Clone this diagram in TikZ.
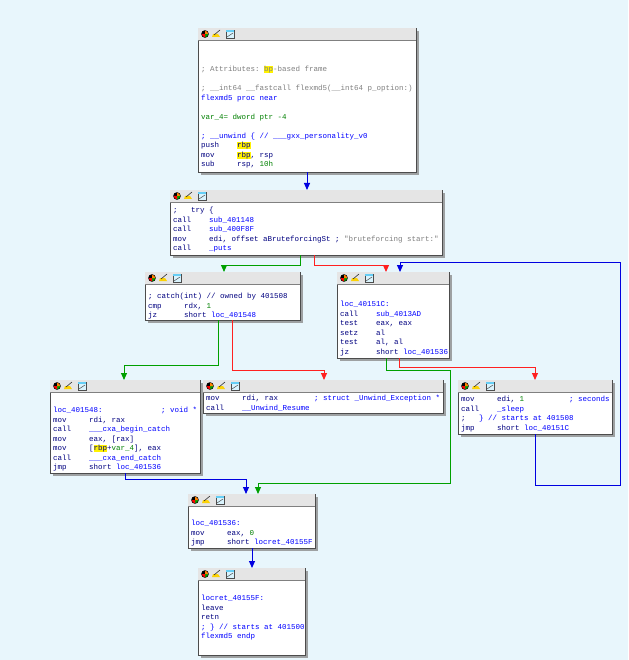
\documentclass[tikz,border=0pt]{standalone}
\usepackage{fontspec}
\setmonofont{Liberation Mono}
\usetikzlibrary{calc,arrows.meta,shadows}

\definecolor{idabg}{HTML}{E8F6FC}
\definecolor{idaop}{HTML}{000080}
\definecolor{idaname}{HTML}{0000FF}
\definecolor{idanum}{HTML}{008000}
\definecolor{idacmt}{HTML}{808080}
\definecolor{idagreen}{HTML}{00A000}
\definecolor{idared}{HTML}{FF2020}
\definecolor{idablue}{HTML}{0000E0}

\newlength{\cw}
\setlength{\cw}{4.5pt}
\newcommand{\ins}[1]{\makebox[8\cw][l]{#1}}
\newcommand{\tabto}[2]{\makebox[#1\cw][l]{#2}}
\newcommand{\hl}[1]{{\setlength{\fboxsep}{0pt}\colorbox{yellow}{#1}}}
\newcommand{\nm}[1]{\textcolor{idaname}{#1}}
\newcommand{\num}[1]{\textcolor{idanum}{#1}}
\newcommand{\cmt}[1]{\textcolor{idacmt}{#1}}

\tikzset{
  blk/.style={draw=black!70, fill=white, anchor=north west, inner sep=0pt,
    drop shadow={shadow xshift=2.5pt, shadow yshift=-2.5pt, fill=black!45, opacity=.8}},
  code/.style={anchor=north west, inner sep=0pt, align=left, text=idaop,
    font=\ttfamily\fontsize{7.5}{9.5}\selectfont},
  edge/.style={line width=1pt, -{Triangle[width=6pt,length=7pt]}},
  egreen/.style={edge, idagreen},
  ered/.style={edge, idared},
  eblue/.style={edge, idablue}
}

% one IDA graph block: name, x, y, width, height
\newcommand{\idablock}[5]{%
  \node[blk, minimum width=#4pt, minimum height=#5pt] (#1) at (#2,#3) {};
  \fill[black!10] (#1.north west) rectangle ($(#1.north east)+(0,12)$);
  \draw[black!50] ($(#1.north west)+(0,12)$) -- ($(#1.north east)+(0,12)$);
  \fill[black] ($(#1.north west)+(7,6)$) circle (3.8pt);
  \fill[idagreen] ($(#1.north west)+(7,6)$) -- ++(0:3.2) arc (0:90:3.2) -- cycle;
  \fill[red] ($(#1.north west)+(7,6)$) -- ++(90:3.2) arc (90:180:3.2) -- cycle;
  \fill[orange] ($(#1.north west)+(7,6)$) -- ++(270:3.2) arc (270:360:3.2) -- cycle;
  \fill[yellow!70!orange] ($(#1.north west)+(14,9)$) -- ++(8,0) -- ++(-2,-3) -- ++(-5,0) -- cycle;
  \draw[black!80, line width=.6pt] ($(#1.north west)+(16,7)$) -- ++(6,-5);
  \draw[black!70, fill=cyan!15] ($(#1.north west)+(28,2)$) rectangle ++(8,8);
  \fill[cyan!60] ($(#1.north west)+(28,2)$) rectangle ++(8,2);
  \draw[black!70, line width=.5pt] ($(#1.north west)+(29,9)$) -- ++(6,-4);
}

\begin{document}
\begin{tikzpicture}[x=1pt,y=-1pt]
	\fill[idabg] (0,0) rectangle (628,660);
	\useasboundingbox (0,0) rectangle (628,660);

	%% blocks
	\idablock{b1}{198}{28}{218}{144}
	\node[code] (t1) at ($(b1.north west)+(3,38)$) {%
	  \cmt{; Attributes: \hl{bp}-based frame}\\
	  \mbox{}\\
	  \cmt{; \_\_int64 \_\_fastcall flexmd5(\_\_int64 p\_option:)}\\
	  \nm{flexmd5 proc near}\\
	  \mbox{}\\
	  \num{var\_4= dword ptr -4}\\
	  \mbox{}\\
	  \nm{; \_\_unwind \{ // \_\_\_gxx\_personality\_v0}\\
	  \ins{push}\hl{rbp}\\
	  \ins{mov}\hl{rbp}, rsp\\
	  \ins{sub}rsp, \num{10h}};

	\idablock{b2}{170}{190}{272}{65}
	\node[code] (t2) at ($(b2.north west)+(3,17)$) {%
	  \tabto{4}{;}try \{\\
	  \ins{call}\nm{sub\_401148}\\
	  \ins{call}\nm{sub\_400F8F}\\
	  \ins{mov}edi, offset aBruteforcingSt ; \cmt{"bruteforcing start:"}\\
	  \ins{call}\nm{\_puts}};

	\idablock{b3}{145}{272}{155}{48}
	\node[code] (t3) at ($(b3.north west)+(3,21)$) {%
	  ; catch(int) // owned by 401508\\
	  \ins{cmp}rdx, \num{1}\\
	  \ins{jz}short \nm{loc\_401548}};

	\idablock{b4}{337}{272}{112}{86}
	\node[code] (t4) at ($(b4.north west)+(3,29)$) {%
	  \nm{loc\_40151C:}\\
	  \ins{call}\nm{sub\_4013AD}\\
	  \ins{test}eax, eax\\
	  \ins{setz}al\\
	  \ins{test}al, al\\
	  \ins{jz}short \nm{loc\_401536}};

	\idablock{b5}{50}{380}{150}{93}
	\node[code] (t5) at ($(b5.north west)+(3,27)$) {%
	  \tabto{24}{\nm{loc\_401548:}}\nm{; void *}\\
	  \ins{mov}rdi, rax\\
	  \ins{call}\nm{\_\_\_cxa\_begin\_catch}\\
	  \ins{mov}eax, [rax]\\
	  \ins{mov}[\hl{rbp}+\num{var\_4}], eax\\
	  \ins{call}\nm{\_\_\_cxa\_end\_catch}\\
	  \ins{jmp}short \nm{loc\_401536}};

	\idablock{b6}{203}{380}{240}{33}
	\node[code] (t6) at ($(b6.north west)+(3,15)$) {%
	  \ins{mov}\tabto{16}{rdi, rax}\nm{; struct \_Unwind\_Exception *}\\
	  \ins{call}\nm{\_\_Unwind\_Resume}};

	\idablock{b7}{458}{380}{154}{54}
	\node[code] (t7) at ($(b7.north west)+(3,16)$) {%
	  \ins{mov}\tabto{16}{edi, \num{1}}\nm{; seconds}\\
	  \ins{call}\nm{\_sleep}\\
	  \tabto{4}{;}\nm{\} // starts at 401508}\\
	  \ins{jmp}short \nm{loc\_40151C}};

	\idablock{b8}{188}{494}{127}{54}
	\node[code] (t8) at ($(b8.north west)+(3,26)$) {%
	  \nm{loc\_401536:}\\
	  \ins{mov}eax, \num{0}\\
	  \ins{jmp}short \nm{locret\_40155F}};

	\idablock{b9}{198}{568}{107}{87}
	\node[code] (t9) at ($(b9.north west)+(3,27)$) {%
	  \nm{locret\_40155F:}\\
	  leave\\
	  retn\\
	  \nm{; \} // starts at 401500}\\
	  \nm{flexmd5 endp}};

	%% bends of the long edges
	\coordinate (lp1) at (620,485);
	\coordinate (lp2) at (620,262);
	\coordinate (gj) at (450,370);
	\coordinate (gk) at (450,483);

	%% edges
	\draw[eblue] ($(b1.south west)+(109,0)$) -- ($(b2.north west)+(137,0)$);
	\draw[egreen] ($(b2.south west)+(130,0)$) |- ($(b3.north west)+(79,-7)$) -- ($(b3.north west)+(79,0)$);
	\draw[ered] ($(b2.south west)+(144,0)$) |- ($(b4.north west)+(49,-7)$) -- ($(b4.north west)+(49,0)$);
	\draw[eblue] ($(b7.south west)+(77,0)$) |- (lp1) -- (lp2) -| ($(b4.north west)+(63,0)$);
	\draw[egreen] ($(b3.south west)+(73,0)$) |- ($(b5.north west)+(74,-15)$) -- ($(b5.north west)+(74,0)$);
	\draw[ered] ($(b3.south west)+(87,0)$) |- ($(b6.north west)+(121,-10)$) -- ($(b6.north west)+(121,0)$);
	\draw[egreen] ($(b4.south west)+(49,0)$) |- (gj) -- (gk) -| ($(b8.north west)+(70,0)$);
	\draw[ered] ($(b4.south west)+(62,0)$) |- ($(b7.north west)+(77,-13)$) -- ($(b7.north west)+(77,0)$);
	\draw[eblue] ($(b5.south west)+(75,0)$) |- ($(b8.north west)+(58,-15)$) -- ($(b8.north west)+(58,0)$);
	\draw[eblue] ($(b8.south west)+(64,0)$) -- ($(b9.north west)+(54,0)$);
\end{tikzpicture}
\end{document}
